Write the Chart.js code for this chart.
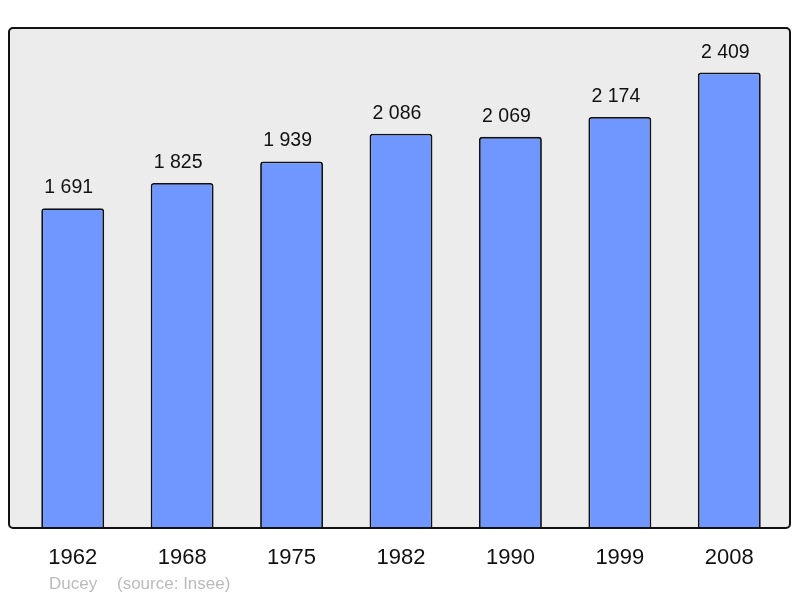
<!DOCTYPE html>
<html>
<head>
<meta charset="utf-8">
<script src="https://cdn.jsdelivr.net/npm/chart.js@4"></script>
<style>
  html, body { margin: 0; padding: 0; background: #ffffff; }
  #wrap { width: 800px; height: 598px; }
</style>
</head>
<body>
<div id="wrap"><canvas id="graphId"></canvas></div>
<script>
// data
var annees = ['1962', '1968', '1975', '1982', '1990', '1999', '2008'];
var population = [1691, 1825, 1939, 2086, 2069, 2174, 2409];
var commune = 'Ducey';
var source = '(source: Insee)';

// "1 691" style numbers
function espace(n) {
  return String(n).replace(/\B(?=(\d{3})+(?!\d))/g, ' ');
}

// grey box behind the bars
var boite = {
  id: 'boite',
  beforeDatasetsDraw: function(chart) {
    var ctx = chart.ctx, a = chart.chartArea;
    ctx.save();
    ctx.fillStyle = '#ececec';
    ctx.beginPath();
    ctx.roundRect(a.left - 9, a.top + 1, a.right - a.left + 15, a.bottom - a.top - 1, 4);
    ctx.fill();
    ctx.restore();
  },
  afterDatasetsDraw: function(chart) {
    var ctx = chart.ctx, a = chart.chartArea;
    ctx.save();
    ctx.strokeStyle = '#111111';
    ctx.lineWidth = 2;
    ctx.beginPath();
    ctx.roundRect(a.left - 9, a.top + 1, a.right - a.left + 15, a.bottom - a.top - 1, 4);
    ctx.stroke();

    // values above bars
    var meta = chart.getDatasetMeta(0);
    ctx.fillStyle = '#111111';
    ctx.font = '19.5px "Liberation Sans", Arial, sans-serif';
    ctx.textAlign = 'center';
    ctx.textBaseline = 'alphabetic';
    meta.data.forEach(function(bar, i) {
      ctx.fillText(espace(population[i]), bar.x - 4, bar.y - 15);
    });

    // footer
    ctx.fillStyle = '#bbbbbb';
    ctx.font = '17px "Liberation Sans", Arial, sans-serif';
    ctx.textAlign = 'left';
    ctx.textBaseline = 'middle';
    ctx.fillText(commune, 49, 584);
    ctx.fillText(source, 117, 584);
    ctx.restore();
  }
};

const ctx = document.getElementById('graphId').getContext('2d');
const myChart = new Chart(ctx, {
  type: 'bar',
  data: {
    labels: annees,
    datasets: [{
      data: population,
      backgroundColor: '#7096ff',
      borderColor: '#111111',
      borderWidth: 1.8,
      borderRadius: 3,
      borderSkipped: 'bottom',
      barPercentage: 0.575,
      categoryPercentage: 1
    }]
  },
  options: {
    responsive: true,
    maintainAspectRatio: false,
    animation: false,
    events: [],
    layout: { padding: { top: 27, left: 18, right: 16, bottom: 0 } },
    plugins: {
      legend: { display: false },
      tooltip: { enabled: false }
    },
    scales: {
      x: {
        grid: { display: false, drawTicks: false },
        border: { display: false },
        ticks: {
          color: '#111111',
          padding: 17,
          font: { family: '"Liberation Sans", Arial, sans-serif', size: 22 }
        },
        afterFit: function(scale) { scale.height = 70; }
      },
      y: {
        display: false,
        min: 0,
        max: 2650
      }
    }
  },
  plugins: [boite]
});
</script>
</body>
</html>
